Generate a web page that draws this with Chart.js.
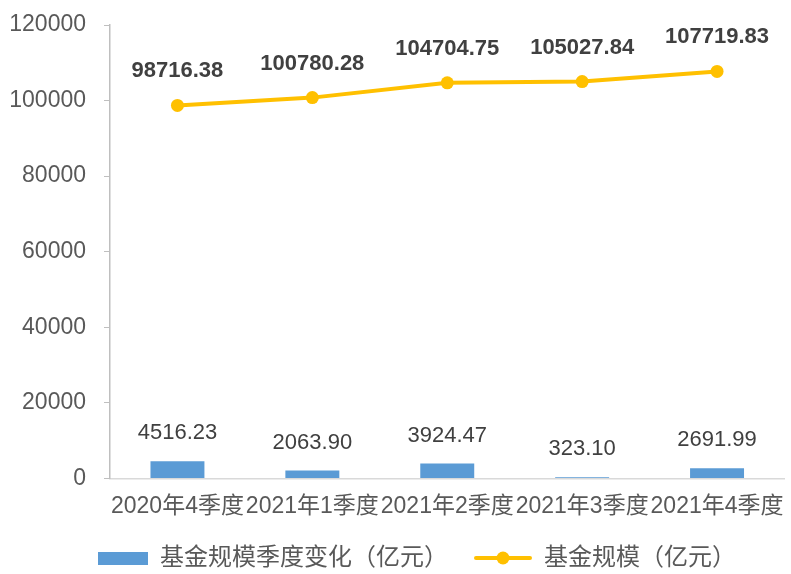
<!DOCTYPE html>
<html><head><meta charset="utf-8">
<script src="https://cdn.jsdelivr.net/npm/chart.js@4/dist/chart.umd.min.js"></script>
<style>html,body{margin:0;padding:0;background:#fff;}#c{display:block;}</style>
</head><body>
<canvas id="c" width="791" height="574"></canvas>
<script>
const categories = ["2020年4季度","2021年1季度","2021年2季度","2021年3季度","2021年4季度"];
const changeValues = [4516.23, 2063.90, 3924.47, 323.10, 2691.99];
const scaleValues = [98716.38, 100780.28, 104704.75, 105027.84, 107719.83];
const seriesNames = ["基金规模季度变化（亿元）","基金规模（亿元）"];
const yTicks = [0, 20000, 40000, 60000, 80000, 100000, 120000];

const FONT = '"Liberation Sans", "Noto Sans CJK SC", sans-serif';
const BLUE = '#5B9BD5', GOLD = '#FFC000';
const ICON_W = 80;

function makeBoxIcon(){
  const c=document.createElement('canvas');c.width=ICON_W;c.height=14;
  const x=c.getContext('2d');x.fillStyle=BLUE;x.fillRect(ICON_W-50,1,50,13);return c;
}
function makeLineIcon(){
  const c=document.createElement('canvas');c.width=ICON_W;c.height=14;
  const x=c.getContext('2d');x.strokeStyle=GOLD;x.lineWidth=4;x.lineCap='round';
  x.beginPath();x.moveTo(ICON_W-56,7);x.lineTo(ICON_W-2,7);x.stroke();
  x.fillStyle=GOLD;x.beginPath();x.arc(ICON_W-29,7,6.5,0,Math.PI*2);x.fill();return c;
}
const icons=[makeBoxIcon(),makeLineIcon()];

const labelPlugin={
  id:'vals',
  afterDatasetsDraw(chart){
    const ctx=chart.ctx;
    ctx.save();
    ctx.textAlign='center';ctx.textBaseline='middle';
    const m0=chart.getDatasetMeta(0);
    ctx.font='22px '+FONT;ctx.fillStyle='#404040';
    m0.data.forEach((el,i)=>{ctx.fillText(changeValues[i].toFixed(2),el.x,el.y-28);});
    const m1=chart.getDatasetMeta(1);
    ctx.font='bold 22px '+FONT;ctx.fillStyle='#404040';
    m1.data.forEach((el,i)=>{ctx.fillText(scaleValues[i].toFixed(2),el.x,el.y-34);});
    ctx.restore();
  }
};

new Chart(document.getElementById('c'),{
  data:{
    labels:categories,
    datasets:[
      {type:'bar',label:seriesNames[0],data:changeValues,backgroundColor:BLUE,
       categoryPercentage:1,barPercentage:0.4,order:2},
      {type:'line',label:seriesNames[1],data:scaleValues,borderColor:GOLD,backgroundColor:GOLD,
       borderWidth:4,pointRadius:6.5,pointBackgroundColor:GOLD,pointBorderWidth:0,order:1}
    ]
  },
  options:{
    responsive:false,animation:false,
    layout:{padding:{left:10,right:-3,top:25,bottom:-6}},
    plugins:{
      tooltip:{enabled:false},
      legend:{position:'bottom',
        labels:{usePointStyle:true,pointStyleWidth:ICON_W,color:'#595959',font:{size:24,family:FONT},padding:4,
          sort:(a,b)=>a.datasetIndex-b.datasetIndex,
          generateLabels(chart){
            const items=Chart.defaults.plugins.legend.labels.generateLabels(chart);
            items.forEach((it)=>{it.pointStyle=icons[it.datasetIndex];});
            return items;
          }}}
    },
    scales:{
      x:{grid:{display:true,drawOnChartArea:false,drawTicks:false},
         border:{color:'#D9D9D9',width:1.5},
         afterFit(s){s.paddingLeft=0;s.paddingRight=0;s.height+=8;},
         ticks:{color:'#595959',font:{size:23,family:FONT},autoSkip:false,maxRotation:0,padding:14}},
      y:{min:0,max:120000,
         afterBuildTicks(ax){ax.ticks=yTicks.map(v=>({value:v}));},
         afterFit(s){s.width=100;s.paddingTop=0;s.paddingBottom=0;},
         grid:{display:true,drawOnChartArea:false,tickLength:6,color:'#BFBFBF'},
         border:{color:'#BFBFBF',width:1.5},
         ticks:{color:'#595959',font:{size:23,family:FONT},padding:18,callback:(v)=>String(v)}}
    }
  },
  plugins:[labelPlugin]
});
</script>
</body></html>
